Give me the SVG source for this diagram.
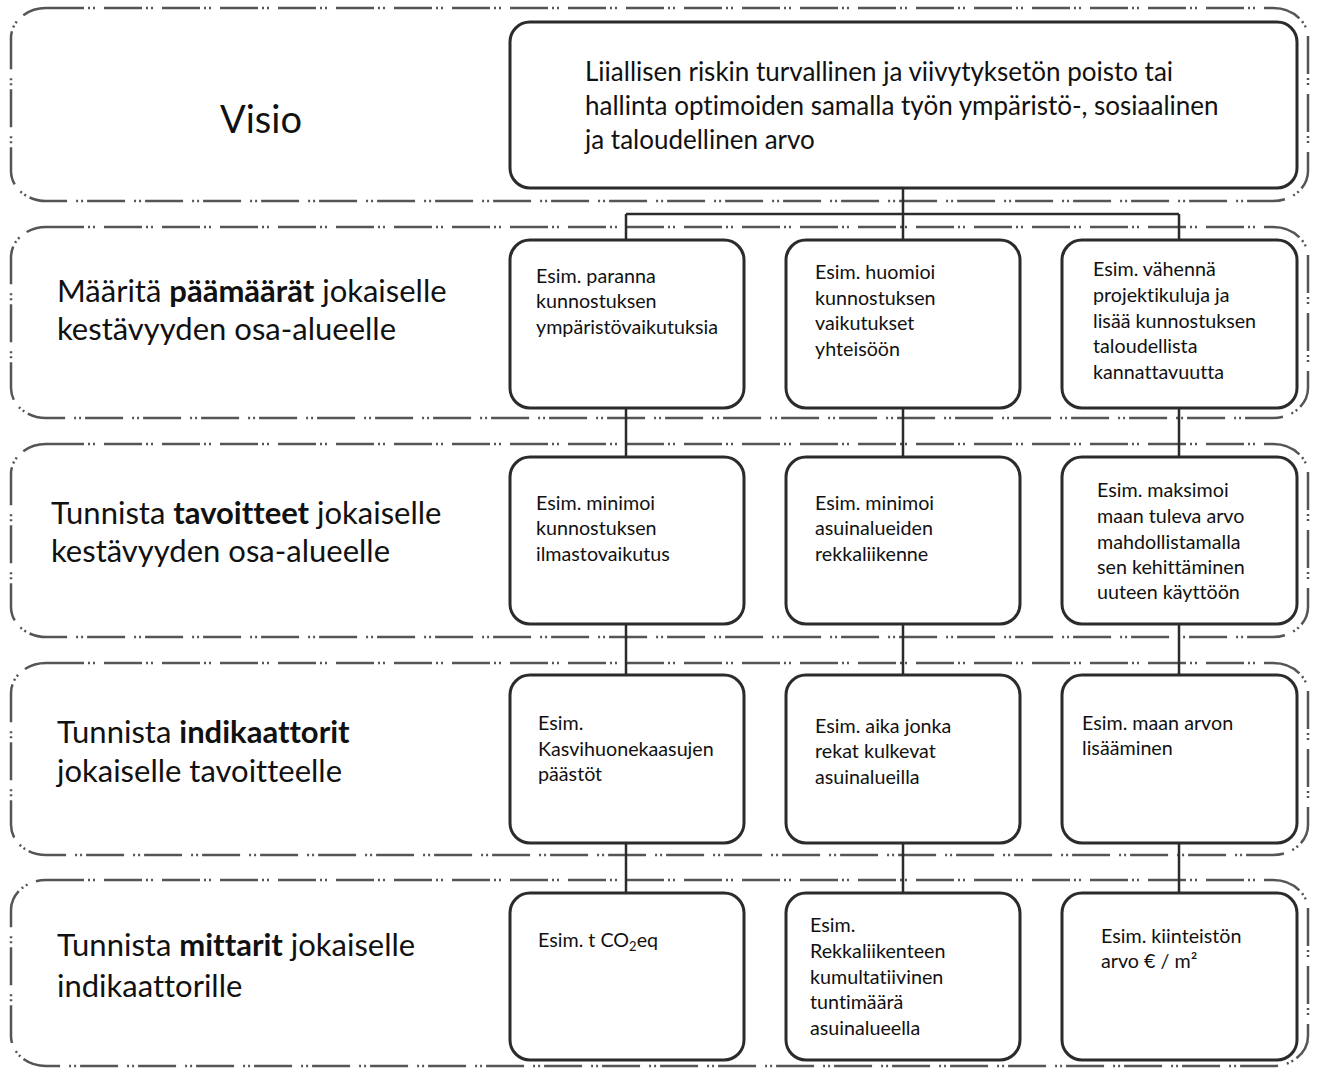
<svg xmlns="http://www.w3.org/2000/svg" width="1318" height="1068" viewBox="0 0 1318 1068">
<style>
text{font-variant-ligatures:none;font-feature-settings:"liga" 0,"dlig" 0}
.band{fill:none;stroke:#555;stroke-width:2.5;stroke-dasharray:38 4 2 3 2 9}
.box{fill:#fff;stroke:#2b2b2b;stroke-width:3}
.conn{fill:none;stroke:#2b2b2b;stroke-width:2.5}
.lbl{font-family:Lato,"Liberation Sans",sans-serif;font-size:31px;fill:#111}
.vis{font-family:Lato,"Liberation Sans",sans-serif;font-size:26px;fill:#111}
.t{font-family:Lato,"Liberation Sans",sans-serif;font-size:19.7px;fill:#111}
.b{font-weight:bold}
</style>
<rect width="1318" height="1068" fill="#fff"/>
<g id="bands">
<rect class="band" x="11" y="8" width="1297" height="193" rx="35" ry="30"/>
<rect class="band" x="11" y="227" width="1297" height="191" rx="35" ry="30"/>
<rect class="band" x="11" y="444" width="1297" height="193" rx="35" ry="30"/>
<rect class="band" x="11" y="663" width="1297" height="192" rx="35" ry="30"/>
<rect class="band" x="11" y="880" width="1297" height="186" rx="35" ry="30"/>
</g>
<g id="connectors">
<path class="conn" d="M903 188V214M626 214H1179M626 214V240M903 214V240M1179 214V240"/>
<path class="conn" d="M626 408V457M903 408V457M1179 408V457"/>
<path class="conn" d="M626 624V675M903 624V675M1179 624V675"/>
<path class="conn" d="M626 843V893M903 843V893M1179 843V893"/>
</g>
<g id="label-visio"><text class="lbl" x="220" y="133" style="font-size:38px">Visio</text></g>
<g id="label-paamaarat"><text class="lbl" x="57" y="302">Määritä <tspan class="b">päämäärät</tspan> jokaiselle</text><text class="lbl" x="57" y="340">kestävyyden osa-alueelle</text></g>
<g id="label-tavoitteet"><text class="lbl" x="51" y="524">Tunnista <tspan class="b">tavoitteet</tspan> jokaiselle</text><text class="lbl" x="51" y="562">kestävyyden osa-alueelle</text></g>
<g id="label-indikaattorit"><text class="lbl" x="57" y="743">Tunnista <tspan class="b">indikaattorit</tspan></text><text class="lbl" x="57" y="782">jokaiselle tavoitteelle</text></g>
<g id="label-mittarit"><text class="lbl" x="57" y="956">Tunnista <tspan class="b">mittarit</tspan> jokaiselle</text><text class="lbl" x="57" y="997">indikaattorille</text></g>
<g id="vision">
<rect class="box" x="510" y="22" width="787" height="166" rx="20"/>
<text class="vis" x="585" y="81">Liiallisen riskin turvallinen ja viivytyksetön poisto tai</text>
<text class="vis" x="585" y="115">hallinta optimoiden samalla työn ympäristö-, sosiaalinen</text>
<text class="vis" x="585" y="149">ja taloudellinen arvo</text>
</g>
<g id="goal-1">
<rect class="box" x="510" y="240" width="234" height="168" rx="20"/>
<text class="t" x="536" y="283">Esim. paranna</text>
<text class="t" x="536" y="308">kunnostuksen</text>
<text class="t" x="536" y="334">ympäristövaikutuksia</text>
</g>
<g id="goal-2">
<rect class="box" x="786" y="240" width="234" height="168" rx="20"/>
<text class="t" x="815" y="279">Esim. huomioi</text>
<text class="t" x="815" y="305">kunnostuksen</text>
<text class="t" x="815" y="330">vaikutukset</text>
<text class="t" x="815" y="356">yhteisöön</text>
</g>
<g id="goal-3">
<rect class="box" x="1062" y="240" width="235" height="168" rx="20"/>
<text class="t" x="1093" y="276">Esim. vähennä</text>
<text class="t" x="1093" y="302">projektikuluja ja</text>
<text class="t" x="1093" y="328">lisää kunnostuksen</text>
<text class="t" x="1093" y="353">taloudellista</text>
<text class="t" x="1093" y="379">kannattavuutta</text>
</g>
<g id="target-1">
<rect class="box" x="510" y="457" width="234" height="167" rx="20"/>
<text class="t" x="536" y="510">Esim. minimoi</text>
<text class="t" x="536" y="535">kunnostuksen</text>
<text class="t" x="536" y="561">ilmastovaikutus</text>
</g>
<g id="target-2">
<rect class="box" x="786" y="457" width="234" height="167" rx="20"/>
<text class="t" x="815" y="510">Esim. minimoi</text>
<text class="t" x="815" y="535">asuinalueiden</text>
<text class="t" x="815" y="561">rekkaliikenne</text>
</g>
<g id="target-3">
<rect class="box" x="1062" y="457" width="235" height="167" rx="20"/>
<text class="t" x="1097" y="497">Esim. maksimoi</text>
<text class="t" x="1097" y="523">maan tuleva arvo</text>
<text class="t" x="1097" y="549">mahdollistamalla</text>
<text class="t" x="1097" y="574">sen kehittäminen</text>
<text class="t" x="1097" y="599">uuteen käyttöön</text>
</g>
<g id="indicator-1">
<rect class="box" x="510" y="675" width="234" height="168" rx="20"/>
<text class="t" x="538" y="730">Esim.</text>
<text class="t" x="538" y="756">Kasvihuonekaasujen</text>
<text class="t" x="538" y="781">päästöt</text>
</g>
<g id="indicator-2">
<rect class="box" x="786" y="675" width="234" height="168" rx="20"/>
<text class="t" x="815" y="733">Esim. aika jonka</text>
<text class="t" x="815" y="758">rekat kulkevat</text>
<text class="t" x="815" y="784">asuinalueilla</text>
</g>
<g id="indicator-3">
<rect class="box" x="1062" y="675" width="235" height="168" rx="20"/>
<text class="t" x="1082" y="730">Esim. maan arvon</text>
<text class="t" x="1082" y="755">lisääminen</text>
</g>
<g id="metric-1">
<rect class="box" x="510" y="893" width="234" height="167" rx="20"/>
<text class="t" x="538" y="947">Esim. t CO<tspan dy="4" font-size="13">2</tspan><tspan dy="-4">eq</tspan></text>
</g>
<g id="metric-2">
<rect class="box" x="786" y="893" width="234" height="167" rx="20"/>
<text class="t" x="810" y="932">Esim.</text>
<text class="t" x="810" y="958">Rekkaliikenteen</text>
<text class="t" x="810" y="984">kumultatiivinen</text>
<text class="t" x="810" y="1009">tuntimäärä</text>
<text class="t" x="810" y="1035">asuinalueella</text>
</g>
<g id="metric-3">
<rect class="box" x="1062" y="893" width="235" height="167" rx="20"/>
<text class="t" x="1101" y="943">Esim. kiinteistön</text>
<text class="t" x="1101" y="968">arvo € / m²</text>
</g>
</svg>
